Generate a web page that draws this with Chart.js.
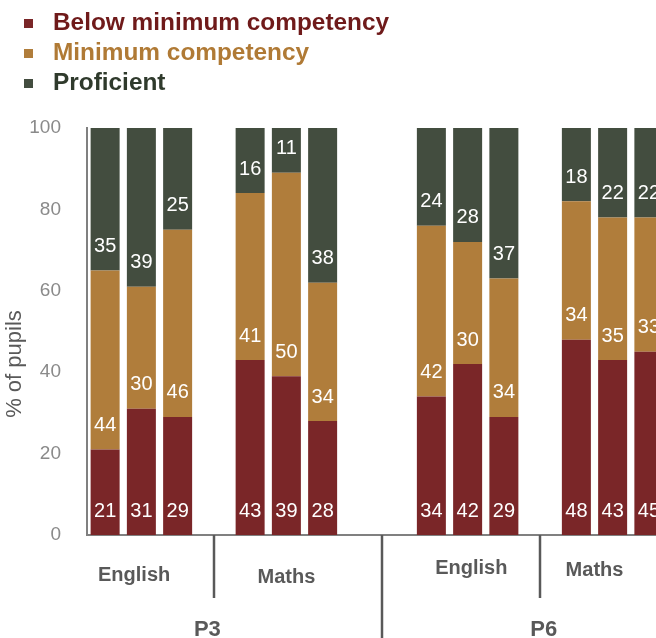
<!DOCTYPE html>
<html>
<head>
<meta charset="utf-8">
<script src="https://cdn.jsdelivr.net/npm/chart.js@4.4.0/dist/chart.umd.min.js"></script>
<style>
  html, body { margin: 0; padding: 0; overflow: hidden; background: #fff; }
</style>
</head>
<body>
<canvas id="chart" width="667" height="638"></canvas>
<script>
// one slot per bar, empty slots keep the gaps between groups
const categories = ['P3 English 1', 'P3 English 2', 'P3 English 3', '',
  'P3 Maths 1', 'P3 Maths 2', 'P3 Maths 3', '', '',
  'P6 English 1', 'P6 English 2', 'P6 English 3', '',
  'P6 Maths 1', 'P6 Maths 2', 'P6 Maths 3'];
const belowMin   = [21, 31, 29, null, 43, 39, 28, null, null, 34, 42, 29, null, 48, 43, 45];
const minimum    = [44, 30, 46, null, 41, 50, 34, null, null, 42, 30, 34, null, 34, 35, 33];
const proficient = [35, 39, 25, null, 16, 11, 38, null, null, 24, 28, 37, null, 18, 22, 22];
const seriesNames = ['Below minimum competency', 'Minimum competency', 'Proficient'];
const subjects = ['English', 'Maths', 'English', 'Maths'];
const grades = ['P3', 'P6'];
const yTicks = [0, 20, 40, 60, 80, 100];

const barColors = ['#7a2628', '#b07d3b', '#434d3f'];
const textColors = ['#6f1a1a', '#b07a35', '#2f3a2c'];

const FONT = '"Liberation Sans", Arial, sans-serif';

// data labels: white numbers sitting near the bottom of each segment
const segmentLabels = {
  id: 'segmentLabels',
  afterDatasetsDraw(chart) {
    const ctx = chart.ctx;
    ctx.save();
    ctx.font = '20px ' + FONT;
    ctx.fillStyle = '#ffffff';
    ctx.textAlign = 'center';
    ctx.textBaseline = 'middle';
    chart.data.datasets.forEach((ds, di) => {
      const meta = chart.getDatasetMeta(di);
      meta.data.forEach((bar, i) => {
        const v = ds.data[i];
        if (v == null) return;
        ctx.fillText(String(v), bar.x, bar.base - 24);
      });
    });
    ctx.restore();
  }
};

// legend, y title and the two-level category axis
const decorations = {
  id: 'decorations',
  afterDraw(chart) {
    const ctx = chart.ctx;
    const xs = chart.scales.x;
    const bottom = chart.chartArea.bottom;
    ctx.save();

    // legend
    ctx.textBaseline = 'middle';
    ctx.textAlign = 'left';
    ctx.font = 'bold 24.4px ' + FONT;
    seriesNames.forEach((name, i) => {
      const y = 23 + i * 30;
      ctx.fillStyle = barColors[i];
      ctx.fillRect(24, y - 4, 9, 9);
      ctx.fillStyle = textColors[i];
      ctx.fillText(name, 53, y);
    });

    // y axis title
    ctx.save();
    ctx.translate(15, 364);
    ctx.rotate(-Math.PI / 2);
    ctx.textAlign = 'center';
    ctx.font = '22px ' + FONT;
    ctx.fillStyle = '#595959';
    ctx.fillText('% of pupils', 0, 0);
    ctx.restore();

    // separators
    ctx.strokeStyle = '#595959';
    ctx.lineWidth = 2.5;
    [[3, 598], [7.65, 640], [12, 598]].forEach(([v, end]) => {
      const px = Math.round(xs.getPixelForValue(v));
      ctx.beginPath();
      ctx.moveTo(px, bottom);
      ctx.lineTo(px, end);
      ctx.stroke();
    });

    // subject labels
    ctx.fillStyle = '#595959';
    ctx.textAlign = 'center';
    ctx.font = 'bold 20px ' + FONT;
    const subjPos = [[0.8, 575], [5, 577], [10.1, 568], [13.5, 570]];
    subjects.forEach((s, i) => {
      ctx.fillText(s, xs.getPixelForValue(subjPos[i][0]), subjPos[i][1]);
    });

    // grade labels
    ctx.font = 'bold 22px ' + FONT;
    const gradePos = [2.82, 12.1];
    grades.forEach((g, i) => {
      ctx.fillText(g, xs.getPixelForValue(gradePos[i]), 630);
    });

    ctx.restore();
  }
};

new Chart(document.getElementById('chart').getContext('2d'), {
  type: 'bar',
  data: {
    labels: categories,
    datasets: [
      { label: seriesNames[0], data: belowMin, backgroundColor: barColors[0] },
      { label: seriesNames[1], data: minimum, backgroundColor: barColors[1] },
      { label: seriesNames[2], data: proficient, backgroundColor: barColors[2] }
    ]
  },
  options: {
    responsive: false,
    devicePixelRatio: 1,
    animation: false,
    categoryPercentage: 1,
    barPercentage: 0.8,
    layout: { padding: { top: 128, right: 0, bottom: 0, left: 0 } },
    plugins: {
      legend: { display: false },
      tooltip: { enabled: false }
    },
    scales: {
      x: {
        stacked: true,
        grid: { display: false, drawTicks: false },
        border: { color: '#808080', width: 2 },
        ticks: { display: false },
        afterFit(scale) { scale.height = 103; }
      },
      y: {
        stacked: true,
        min: 0,
        max: 100,
        grid: { display: false, drawTicks: false },
        border: { color: '#808080', width: 2 },
        ticks: {
          stepSize: 20,
          padding: 26,
          color: '#8a8a8a',
          font: { family: FONT, size: 19 },
          callback: (v) => yTicks.includes(v) ? v : ''
        },
        afterFit(scale) { scale.width = 87; }
      }
    }
  },
  plugins: [segmentLabels, decorations]
});
</script>
</body>
</html>
